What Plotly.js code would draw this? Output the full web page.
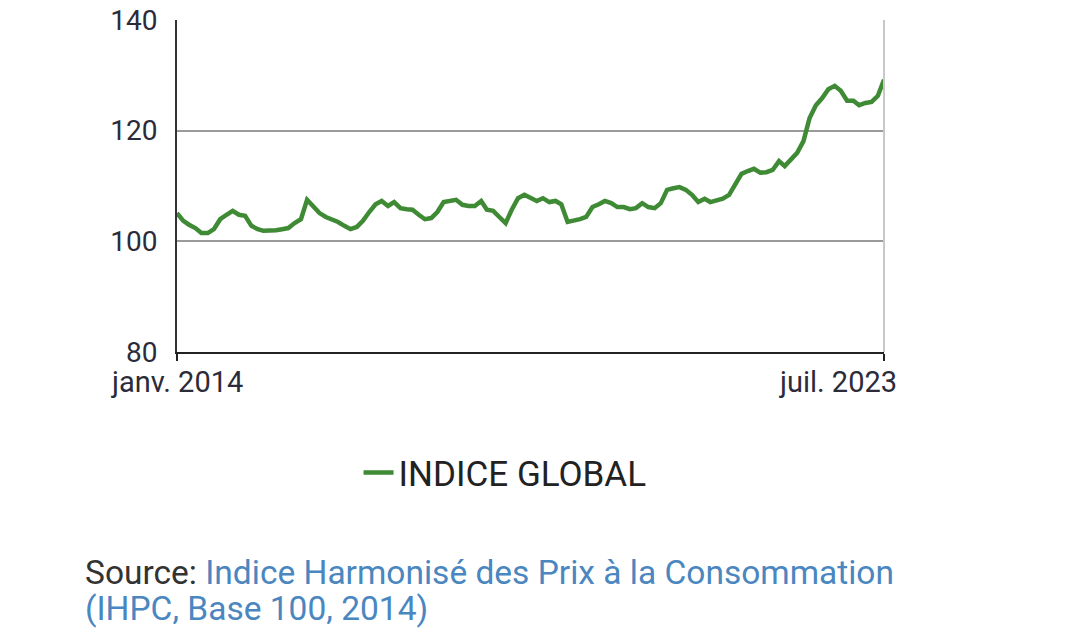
<!DOCTYPE html>
<html>
<head>
<meta charset="utf-8">
<script src="https://cdn.plot.ly/plotly-3.0.1.min.js"></script>
<style>html,body{margin:0;padding:0;background:#fff;}#chart{width:1080px;height:636px;}</style>
</head>
<body>
<div id="chart"></div>
<script>
var startYear = 2014, startMonth = 1;
var seriesName = "INDICE GLOBAL";
var values = [
105.1,103.7,103.0,102.4,101.5,101.5,102.2,104.0,104.8,105.5,104.8,104.6,
102.8,102.2,101.9,101.9,102.0,102.2,102.4,103.3,104.0,107.5,106.4,105.1,
104.4,104.0,103.5,102.8,102.2,102.6,103.7,105.3,106.7,107.3,106.4,107.1,
106.0,105.8,105.7,104.8,104.0,104.2,105.3,107.1,107.3,107.5,106.6,106.4,
106.4,107.3,105.7,105.5,104.4,103.3,105.7,107.8,108.4,107.8,107.3,107.8,
107.1,107.3,106.7,103.5,103.7,104.0,104.4,106.2,106.7,107.3,106.9,106.2,
106.2,105.8,106.0,106.9,106.2,106.0,106.9,109.3,109.6,109.8,109.3,108.4,
107.1,107.7,107.1,107.3,107.7,108.4,110.4,112.2,112.7,113.1,112.4,112.5,
112.9,114.5,113.6,114.7,116.0,118.1,122.3,124.6,125.9,127.5,128.1,127.2,
125.4,125.4,124.6,125.0,125.2,126.3,129.2
];
var tickDates = ["2014-01-01", "2023-07-01"];
var tickLabels = ["janv. 2014", "juil. 2023"];
var yTicks = [80, 100, 120, 140];
var sourceLine1 = "Source: <span style='color:#4a86c0'>Indice Harmonisé des Prix à la Consommation</span>";
var sourceLine2 = "<span style='color:#4a86c0'>(IHPC, Base 100, 2014)</span>";

var dates = [];
for (var i = 0; i < values.length; i++) {
  var m = startMonth - 1 + i;
  var y = startYear + Math.floor(m / 12);
  var mm = (m % 12) + 1;
  dates.push(y + "-" + (mm < 10 ? "0" + mm : mm) + "-01");
}

var trace = {
  x: dates, y: values, type: "scatter", mode: "lines", name: seriesName,
  line: {color: "#3f8a35", width: 4.5}
};

var tickFont = {size: 29, color: "#2b2b3a", family: "Roboto, sans-serif"};
var labelShifts = [0, -46];

var annotations = [{
  xref: "paper", yref: "paper", x: -0.133, y: -0.663, xanchor: "left", yanchor: "middle",
  align: "left", showarrow: false,
  font: {size: 33.5, family: "Roboto, sans-serif", color: "#333"},
  text: sourceLine1
}, {
  xref: "paper", yref: "paper", x: -0.133, y: -0.774, xanchor: "left", yanchor: "middle",
  align: "left", showarrow: false,
  font: {size: 33.5, family: "Roboto, sans-serif", color: "#333"},
  text: sourceLine2
}];
tickLabels.forEach(function (lab, k) {
  annotations.push({
    xref: "x", yref: "paper", x: tickDates[k], y: 0, xanchor: "center", yanchor: "middle",
    xshift: labelShifts[k], yshift: -30, showarrow: false, font: tickFont, text: lab
  });
});

var layout = {
  width: 1080, height: 636,
  margin: {l: 177, r: 196, t: 20, b: 284},
  paper_bgcolor: "#fff", plot_bgcolor: "#fff",
  font: {family: "Roboto, sans-serif", color: "#2b2b3a"},
  xaxis: {
    type: "date", range: [tickDates[0], tickDates[1]],
    tickmode: "array", tickvals: tickDates, ticktext: ["", ""],
    showgrid: false, zeroline: false,
    showline: true, linecolor: "#222", linewidth: 2,
    ticks: "outside", ticklen: 7, tickwidth: 1.5, tickcolor: "#222",
    tickfont: tickFont
  },
  yaxis: {
    range: [80, 140], tickmode: "array", tickvals: yTicks,
    showgrid: true, gridcolor: "#9a9a9a", gridwidth: 2,
    zeroline: false, showline: true, linecolor: "#333", linewidth: 2,
    ticks: "", ticklabelstandoff: 12,
    tickfont: {size: 28, color: "#2b2b3a", family: "Roboto, sans-serif"}
  },
  showlegend: true,
  legend: {
    orientation: "h", x: 0.464, xanchor: "center", y: -0.364, yanchor: "middle",
    font: {size: 35, color: "#222", family: "Roboto, sans-serif"}
  },
  shapes: [{
    type: "line", xref: "paper", yref: "paper", x0: 1, x1: 1, y0: 0, y1: 1,
    line: {color: "#c8c8c8", width: 2}
  }],
  annotations: annotations
};

Plotly.newPlot("chart", [trace], layout, {displayModeBar: false, staticPlot: true});
</script>
</body>
</html>
